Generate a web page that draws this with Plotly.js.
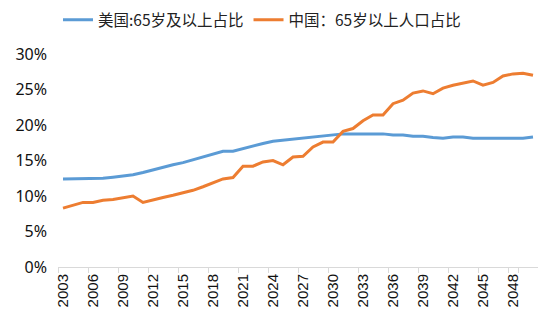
<!DOCTYPE html>
<html><head><meta charset="utf-8">
<script src="https://cdn.plot.ly/plotly-3.0.1.min.js"></script>
<style>html,body{margin:0;padding:0;background:#fff;}#chart{width:554px;height:325px;}</style>
</head><body><div id="chart"></div>
<script>
const years = [];
for (let y = 2003; y <= 2050; y++) years.push(String(y));
const usShare = [12.4,12.4,12.4,12.4,12.5,12.65,12.8,13.0,13.3,13.7,14.0,14.4,14.7,15.1,15.4,15.8,16.3,16.3,16.7,17.1,17.4,17.7,17.85,18.0,18.15,18.3,18.45,18.65,18.75,18.75,18.75,18.75,18.75,18.6,18.6,18.4,18.4,18.25,18.15,18.3,18.3,18.15,18.15,18.15,18.15,18.15,18.15,18.3];
const cnShare = [8.3,8.7,9.1,9.1,9.4,9.5,9.7,10.0,9.1,9.5,9.8,10.1,10.4,10.8,11.3,11.9,12.4,12.6,14.2,14.2,14.8,15.0,14.4,15.5,15.6,16.9,17.6,17.6,19.1,19.5,20.6,21.4,21.4,23.0,23.5,24.5,24.8,24.4,25.2,25.6,25.9,26.2,25.6,26.0,26.9,27.2,27.3,27.0];
const seriesNames = ['美国:65岁及以上占比', '中国：65岁以上人口占比'];
const tickYears = years.filter((y, i) => i % 3 === 0);

const traces = [
  {x: years, y: usShare, name: seriesNames[0], type: 'scatter', mode: 'lines',
   line: {color: '#5B9BD5', width: 3}},
  {x: years, y: cnShare, name: seriesNames[1], type: 'scatter', mode: 'lines',
   line: {color: '#ED7D31', width: 3}}
];
const layout = {
  width: 554, height: 325,
  margin: {l: 58, r: 16, t: 54, b: 58, autoexpand: false},
  paper_bgcolor: '#fff', plot_bgcolor: '#fff',
  showlegend: true,
  legend: {orientation: 'h', x: 0.0, xanchor: 'left', yref: 'container', y: 0.938, yanchor: 'middle',
    font: {family: 'Noto Sans CJK SC, sans-serif', size: 15.5, color: '#222'},
    itemwidth: 30, tracegroupgap: 0},
  xaxis: {type: 'category', range: [-0.5, 47.5], tickmode: 'array', tickvals: tickYears, ticktext: tickYears,
    tickson: 'boundaries', ticks: 'outside', ticklen: 5, tickcolor: '#d9d9d9',
    showline: true, linecolor: '#d9d9d9', linewidth: 1, showgrid: false, zeroline: false,
    tickangle: -90, tickfont: {family: 'Liberation Sans, Arial, sans-serif', size: 15, color: '#111'}},
  yaxis: {range: [0, 30], dtick: 5, tick0: 0, ticksuffix: '%', showgrid: false, zeroline: false,
    showline: false, ticks: '', ticklabelstandoff: 10,
    tickfont: {family: 'Noto Sans, sans-serif', size: 16, color: '#111'}}
};
Plotly.newPlot('chart', traces, layout, {displayModeBar: false, staticPlot: true});
</script>
</body></html>
